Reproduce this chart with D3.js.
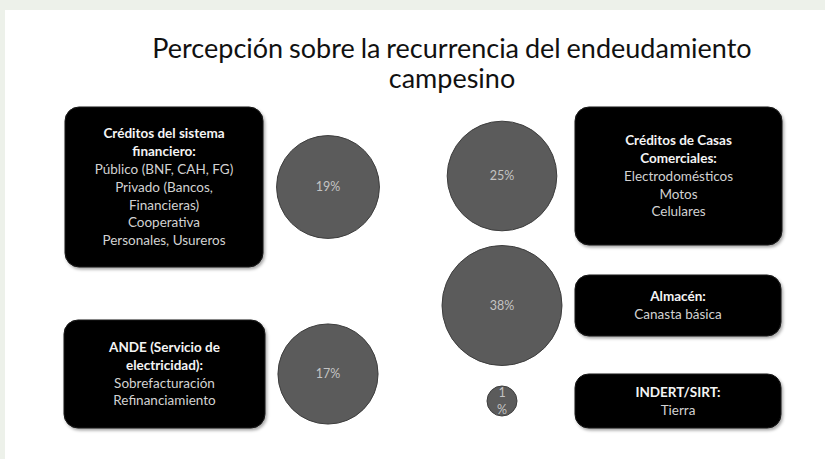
<!DOCTYPE html>
<html>
<head>
<meta charset="utf-8">
<script src="https://cdn.jsdelivr.net/npm/d3@7"></script>
<style>
  html, body { margin: 0; padding: 0; background: #edf1ea; }
  svg { display: block; }
</style>
</head>
<body>
<div id="chart"></div>
<script>
// Datos
const categorias = ["Sistema financiero", "Casas Comerciales", "Almacén", "INDERT/SIRT", "ANDE"];
const titulos = [
  ["Créditos del sistema", "financiero:"],
  ["Créditos de Casas", "Comerciales:"],
  ["Almacén:"],
  ["INDERT/SIRT:"],
  ["ANDE (Servicio de", "electricidad):"]
];
const detalles = [
  ["Público (BNF, CAH, FG)", "Privado (Bancos,", "Financieras)", "Cooperativa", "Personales, Usureros"],
  ["Electrodomésticos", "Motos", "Celulares"],
  ["Canasta básica"],
  ["Tierra"],
  ["Sobrefacturación", "Refinanciamiento"]
];
const porcentajes = [19, 25, 38, 1, 17];
const tituloGrafico = ["Percepción sobre la recurrencia del endeudamiento", "campesino"];

// Disposición de las cajas (maqueta)
const cajas = [
  { x: 65,  y: 107, w: 198, h: 160, col: "izq" },
  { x: 575, y: 107, w: 207, h: 138, col: "der" },
  { x: 575, y: 275, w: 206, h: 61,  col: "der" },
  { x: 575, y: 374, w: 206, h: 54,  col: "der" },
  { x: 64,  y: 320, w: 201, h: 108, col: "izq" }
];

const width = 825, height = 459;
const fuente = "Lato, 'Open Sans', sans-serif";

const svg = d3.select("#chart")
  .append("svg")
  .attr("width", width)
  .attr("height", height);

const defs = svg.append("defs");
const sombra = defs.append("filter").attr("id", "sombra")
  .attr("x", "-10%").attr("y", "-10%").attr("width", "130%").attr("height", "130%");
sombra.append("feDropShadow")
  .attr("dx", 1.5).attr("dy", 2).attr("stdDeviation", 1.5)
  .attr("flood-color", "#000").attr("flood-opacity", 0.35);

// Panel blanco
svg.append("rect")
  .attr("x", 5).attr("y", 10)
  .attr("width", width - 5).attr("height", height - 10)
  .attr("fill", "#fff");

// Título
svg.append("text")
  .attr("x", 452)
  .attr("font-family", fuente)
  .attr("font-size", "27px")
  .attr("word-spacing", "-1px")
  .attr("fill", "#111")
  .attr("text-anchor", "middle")
  .selectAll("tspan")
  .data(tituloGrafico)
  .enter()
  .append("tspan")
  .attr("x", 452)
  .attr("y", (d, i) => 58 + i * 30)
  .text(d => d);

// Escalas
const x = d3.scalePoint()
  .domain(["izq", "der"])
  .range([328, 502]);

const r = d3.scaleLog()
  .domain([1, d3.max(porcentajes)])
  .range([15, 60]);

const items = categorias.map((c, i) => ({
  categoria: c,
  titulo: titulos[i],
  detalle: detalles[i],
  valor: porcentajes[i],
  caja: cajas[i]
}));

// Cajas
const g = svg.selectAll(".item")
  .data(items)
  .enter()
  .append("g")
  .attr("class", "item");

g.append("rect")
  .attr("x", d => d.caja.x)
  .attr("y", d => d.caja.y)
  .attr("width", d => d.caja.w)
  .attr("height", d => d.caja.h)
  .attr("rx", d => Math.min(14, d.caja.h / 4))
  .attr("fill", "#040404")
  .attr("stroke", "#1a1a1a")
  .attr("filter", "url(#sombra)");

const lineaAlto = 17.8;
g.each(function(d) {
  const lineas = d.titulo.map(t => ({ t, bold: true })).concat(d.detalle.map(t => ({ t, bold: false })));
  const cy = d.caja.y + d.caja.h / 2;
  const y0 = cy - (lineas.length - 1) * lineaAlto / 2;
  d3.select(this).selectAll(".linea")
    .data(lineas)
    .enter()
    .append("text")
    .attr("class", "linea")
    .attr("x", d.caja.x + d.caja.w / 2)
    .attr("y", (l, i) => y0 + i * lineaAlto)
    .attr("dy", "0.35em")
    .attr("text-anchor", "middle")
    .attr("font-family", fuente)
    .attr("font-size", "13.5px")
    .attr("font-weight", l => l.bold ? "bold" : "normal")
    .attr("fill", l => l.bold ? "#f4f4f4" : "#d2d2d2")
    .text(l => l.t);
});

// Círculos
g.append("circle")
  .attr("cx", d => x(d.caja.col))
  .attr("cy", d => d.caja.y + d.caja.h / 2)
  .attr("r", d => r(d.valor))
  .attr("fill", "#5b5b5b")
  .attr("stroke", "#3e3e3e")
  .attr("stroke-width", 1);

g.each(function(d) {
  const cx = x(d.caja.col);
  const cy = d.caja.y + d.caja.h / 2;
  const partes = r(d.valor) < 25 ? [d.valor + "", "%"] : [d.valor + "%"];
  d3.select(this).selectAll(".pct")
    .data(partes)
    .enter()
    .append("text")
    .attr("class", "pct")
    .attr("x", cx)
    .attr("y", (p, i) => cy + (i - (partes.length - 1) / 2) * 17)
    .attr("dy", "0.35em")
    .attr("text-anchor", "middle")
    .attr("font-family", fuente)
    .attr("font-size", "12.5px")
    .attr("fill", "#c4c4c4")
    .text(p => p);
});
</script>
</body>
</html>
